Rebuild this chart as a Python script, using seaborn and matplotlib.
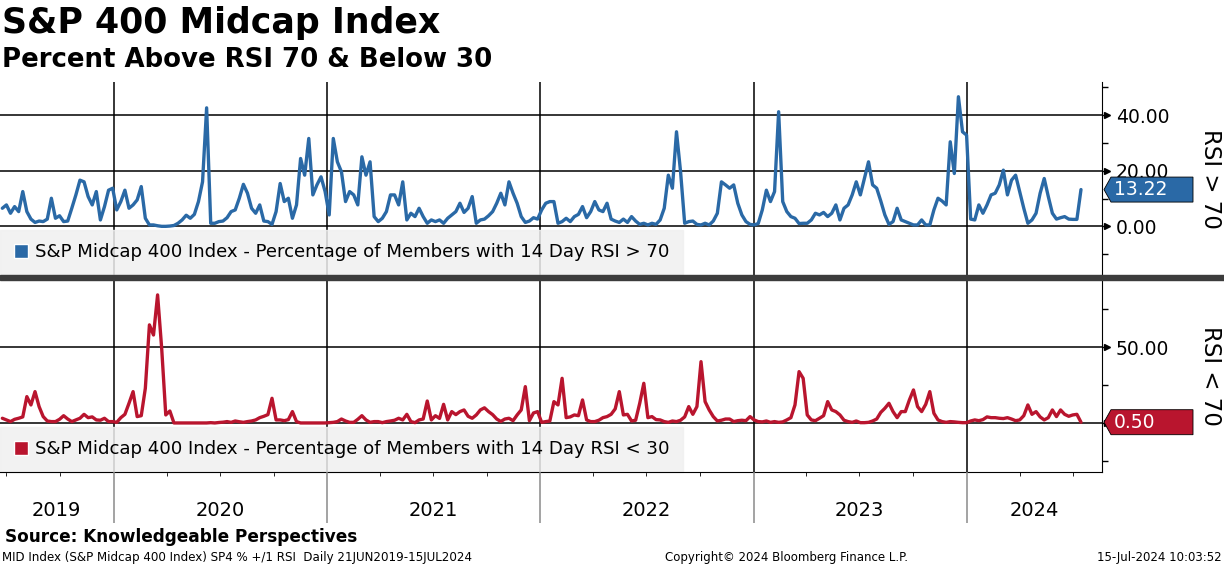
import matplotlib
matplotlib.use('Agg')
import numpy as np
import pandas as pd
import matplotlib.pyplot as plt
import matplotlib.dates as mdates
import seaborn as sns
from matplotlib.patches import Patch, Polygon, Rectangle
from matplotlib.ticker import FuncFormatter, FixedLocator

# % de miembros con RSI 14d > 70, lectura semanal aprox. del grafico (ultimo valor = 15-Jul-2024)
rsi_above = [
    6.5, 7.7, 4.7, 7.1, 5.3, 12.5, 5.3, 2.6, 1.4, 1.9,
    1.7, 2.6, 10.1, 2.9, 3.8, 1.7, 1.9, 6.5, 11.3, 16.6,
    16.0, 10.7, 7.7, 12.5, 2.3, 7.1, 13.0, 13.7, 5.9, 8.9,
    13.0, 6.5, 7.7, 9.5, 14.3, 2.9, 0.5, 0.5, 0.2, 0.0,
    0.0, 0.1, 0.3, 1.1, 2.3, 4.0, 2.9, 4.3, 8.9, 16.0,
    42.6, 1.1, 1.1, 1.7, 1.9, 3.1, 5.3, 5.9, 10.1, 15.1,
    11.9, 6.5, 4.7, 7.7, 1.9, 1.7, 0.7, 5.3, 15.4, 8.9,
    10.1, 2.9, 7.7, 24.4, 18.4, 31.6, 11.3, 14.9, 17.8, 12.5,
    4.1, 31.6, 23.2, 19.6, 8.9, 12.5, 11.3, 7.7, 25.0, 18.4,
    23.2, 3.5, 1.7, 2.9, 5.3, 11.3, 11.3, 7.7, 16.0, 2.3,
    4.7, 3.5, 6.5, 3.5, 1.1, 2.3, 1.7, 2.3, 1.1, 2.9,
    4.1, 5.3, 8.3, 5.0, 6.5, 10.7, 1.1, 2.3, 2.6, 3.8,
    5.3, 8.3, 11.9, 7.7, 16.0, 11.9, 8.3, 3.5, 1.4, 1.9,
    3.1, 2.6, 5.9, 8.3, 8.9, 8.9, 1.1, 1.7, 2.9, 1.7,
    3.5, 4.3, 7.1, 3.1, 5.3, 8.9, 5.9, 5.3, 8.3, 2.6,
    1.9, 1.4, 2.6, 1.4, 3.5, 1.9, 0.7, 1.1, 0.5, 1.1,
    0.7, 2.3, 6.5, 18.4, 13.7, 34.0, 19.6, 1.1, 1.7, 1.9,
    0.7, 0.5, 1.1, 0.5, 1.9, 4.7, 16.0, 14.9, 13.7, 14.9,
    8.3, 4.1, 1.7, 0.7, 0.5, 1.0, 5.9, 13.0, 8.9, 12.5,
    41.2, 8.9, 5.3, 3.5, 2.9, 1.0, 1.1, 1.1, 2.3, 4.7,
    4.1, 5.0, 3.5, 4.7, 7.7, 2.3, 6.5, 7.7, 11.3, 16.0,
    11.3, 17.2, 23.2, 14.9, 13.7, 9.1, 4.1, 0.7, 1.7, 6.5,
    2.3, 1.7, 1.1, 0.5, 0.5, 2.3, 0.5, 0.5, 5.9, 10.1,
    9.1, 7.7, 30.4, 19.0, 46.6, 34.0, 32.8, 2.6, 2.3, 7.7,
    4.7, 7.7, 11.3, 11.9, 14.9, 20.2, 11.3, 16.6, 18.4, 12.5,
    6.5, 1.1, 2.3, 4.7, 11.9, 17.2, 10.7, 4.7, 2.6, 3.1,
    3.5, 2.6, 2.5, 2.5, 13.22,
]

# % de miembros con RSI 14d < 30
rsi_below = [
    3.1, 2.0, 0.9, 2.4, 3.1, 4.0, 17.4, 11.9, 20.7, 10.8,
    4.2, 1.3, 0.9, 0.9, 2.4, 4.8, 2.6, 0.9, 2.0, 3.1,
    5.7, 3.5, 4.0, 2.0, 1.8, 3.1, 0.9, 0.9, 0.4, 3.5,
    5.7, 13.0, 20.7, 4.2, 4.8, 22.9, 64.8, 58.1, 84.6, 49.3,
    5.3, 7.9, 0.0, 0.0, 0.0, 0.0, 0.0, 0.0, 0.0, 0.0,
    0.0, 0.2, 0.0, 0.3, 0.5, 0.9, 0.4, 1.3, 0.8, 0.4,
    0.9, 1.3, 2.0, 3.5, 4.4, 5.5, 16.3, 2.0, 2.0, 1.5,
    2.2, 7.5, 0.9, 0.0, 0.0, 0.0, 0.0, 0.0, 0.0, 0.0,
    0.2, 0.4, 0.9, 2.6, 1.3, 0.4, 0.4, 2.4, 4.8, 2.0,
    0.4, 0.9, 0.9, 0.2, 0.9, 1.3, 1.8, 3.1, 2.0, 5.7,
    0.9, 0.2, 2.0, 2.6, 14.5, 2.0, 4.8, 3.0, 12.3, 2.0,
    7.5, 5.5, 7.5, 8.6, 4.4, 3.1, 5.3, 8.6, 10.0, 7.5,
    5.5, 2.6, 1.0, 2.6, 3.1, 1.5, 5.3, 8.6, 24.0, 1.5,
    6.6, 7.5, 0.4, 0.9, 1.3, 14.1, 11.9, 29.5, 3.5, 4.0,
    5.3, 4.8, 15.2, 2.0, 0.9, 0.9, 1.8, 3.5, 4.2, 5.7,
    9.3, 20.7, 5.3, 5.7, 1.3, 1.8, 13.0, 26.2, 3.5, 4.2,
    2.2, 2.0, 0.9, 0.4, 1.3, 0.9, 1.8, 4.0, 10.8, 5.7,
    10.8, 40.5, 14.1, 8.6, 4.2, 1.3, 1.8, 2.6, 2.6, 0.9,
    1.5, 1.8, 1.5, 4.2, 2.0, 0.9, 0.7, 1.3, 0.4, 0.9,
    0.4, 0.7, 2.0, 3.5, 11.9, 33.9, 29.5, 5.3, 2.0, 1.5,
    3.1, 4.8, 14.1, 8.6, 7.5, 5.3, 1.8, 0.9, 0.4, 1.3,
    0.2, 0.2, 0.4, 1.3, 2.6, 7.0, 9.7, 13.0, 7.5, 3.5,
    7.5, 7.5, 15.2, 21.8, 10.8, 7.5, 12.3, 20.7, 6.4, 2.0,
    0.9, 0.4, 0.9, 0.7, 0.4, 0.2, 0.2, 1.3, 2.0, 1.5,
    2.2, 4.0, 3.5, 3.5, 3.1, 2.9, 3.5, 2.6, 1.5, 2.0,
    4.8, 11.9, 5.7, 7.5, 4.0, 2.0, 3.5, 8.6, 4.2, 8.6,
    5.7, 4.4, 5.3, 5.7, 0.50,
]

years = ['2019', '2020', '2021', '2022', '2023', '2024']
year_label_dates = ['2019-09-25', '2020-07-02', '2021-07-02', '2022-07-02', '2023-07-02', '2024-04-26']
label_above = 'S&P Midcap 400 Index - Percentage of Members with 14 Day RSI > 70'
label_below = 'S&P Midcap 400 Index - Percentage of Members with 14 Day RSI < 30'

BLUE = '#2a69a6'
RED = '#b9152e'
W, H = 1224, 566

dates = pd.date_range(end='2024-07-15', periods=len(rsi_above), freq='7D')
df = pd.DataFrame({'date': dates, 'above': rsi_above, 'below': rsi_below})

sns.set_style('white')
plt.rcParams['font.family'] = ['DejaVu Sans']
plt.rcParams['text.color'] = 'black'
plt.rcParams['xtick.color'] = 'black'
plt.rcParams['ytick.color'] = 'black'
plt.rcParams['axes.labelcolor'] = 'black'

fig = plt.figure(figsize=(W / 100, H / 100), dpi=100)
ax1 = fig.add_axes([0, 1 - 275 / H, 1102 / W, 193 / H])
ax2 = fig.add_axes([0, 1 - 472 / H, 1102 / W, 193 / H])
ax3 = fig.add_axes([0, 1 - 523 / H, 1102 / W, 51 / H])

sns.lineplot(data=df, x='date', y='above', ax=ax1, color=BLUE, lw=2.4, legend=False, zorder=3)
sns.lineplot(data=df, x='date', y='below', ax=ax2, color=RED, lw=2.4, legend=False, zorder=3)

xmin, xmax = pd.Timestamp('2019-06-20'), pd.Timestamp('2024-08-20')
year_starts = [pd.Timestamp(f'{y}-01-01') for y in range(2020, 2025)]

def style_panel(ax, ylim, major, minor, hide_zero=False):
    ax.set_xlim(xmin, xmax)
    ax.set_ylim(*ylim)
    ax.set_xlabel('')
    ax.set_ylabel('')
    for s in ['left', 'top', 'bottom']:
        ax.spines[s].set_visible(False)
    ax.spines['right'].set_color('black')
    ax.yaxis.tick_right()
    ax.yaxis.set_major_locator(FixedLocator(major))
    ax.yaxis.set_minor_locator(FixedLocator(minor))
    # el 0.00 del panel inferior queda tapado por la etiqueta del ultimo valor
    ax.yaxis.set_major_formatter(FuncFormatter(
        lambda v, p: '' if (hide_zero and v == 0) else f'{v:.2f}'))
    ax.tick_params(axis='y', which='both', direction='out', length=4, width=1, color='black',
                   labelsize=13.5, pad=6, right=True, left=False, labelcolor='black')
    for v in major:
        ax.axhline(v, color='black', lw=1.1, zorder=1)
        ax.plot([1 + 5 / 1102], [v], marker='>', ms=4.5, color='black',
                transform=ax.get_yaxis_transform(), clip_on=False)
    for d in year_starts:
        ax.axvline(d, color='black', lw=1.1, zorder=1)
    ax.xaxis.set_major_locator(mdates.YearLocator())
    ax.tick_params(axis='x', which='both', bottom=False, labelbottom=False)

style_panel(ax1, (-17.5, 51.9), [0, 20, 40], [-10, 10, 30, 50])
style_panel(ax2, (-32.4, 95.1), [0, 50], [-25, 25, 75], hide_zero=True)
ax2.spines['bottom'].set_visible(True)
ax2.spines['bottom'].set_color('black')
ax2.xaxis.set_minor_locator(mdates.MonthLocator(bymonth=[1, 4, 7, 10]))
ax2.tick_params(axis='x', which='minor', bottom=True, direction='out', length=3, color='black')

for ax, lab, col in [(ax1, label_above, BLUE), (ax2, label_below, RED)]:
    leg = ax.legend(handles=[Patch(facecolor=col, label=lab)], loc='lower left',
                    bbox_to_anchor=(0, 0), borderaxespad=0, frameon=True, fancybox=False,
                    facecolor='#f0f0f0', edgecolor='#f0f0f0', framealpha=0.85,
                    fontsize=13.1, handlelength=0.8, handleheight=0.8,
                    handletextpad=0.35, borderpad=0.75)
    leg.set_zorder(2)

# banda de anos
ax3.set_xlim(xmin, xmax)
ax3.set_ylim(0, 1)
ax3.axis('off')
for d in year_starts:
    ax3.axvline(d, color='#8a8a8a', lw=1.1)
for y, d in zip(years, year_label_dates):
    ax3.text(pd.Timestamp(d), 0.24, y, ha='center', va='center', fontsize=14)

# separador entre paneles
fig.add_artist(Rectangle((0, 1 - 280 / H), 1, 5 / H, transform=fig.transFigure,
                         color='#3c3c3c', zorder=5))

# etiquetas de ultimo valor
def value_tag(ax, value, color):
    yd = ax.transData.transform((mdates.date2num(xmin), value))[1]
    yf = yd / (H * fig.dpi / 100)
    h = 12.5 / H
    pts = [(1104 / W, yf), (1111 / W, yf + h), (1193 / W, yf + h), (1193 / W, yf - h), (1111 / W, yf - h)]
    fig.add_artist(Polygon(pts, closed=True, transform=fig.transFigure, facecolor=color,
                           edgecolor='black', lw=0.6, zorder=6))
    fig.text(1114 / W, yf, f'{value:.2f}', color='white', fontsize=13.5, va='center', zorder=7)

value_tag(ax1, rsi_above[-1], BLUE)
value_tag(ax2, rsi_below[-1], RED)

fig.text(1210 / W, 1 - 179 / H, 'RSI > 70', rotation=-90, ha='center', va='center', fontsize=16.5)
fig.text(1210 / W, 1 - 376 / H, 'RSI < 70', rotation=-90, ha='center', va='center', fontsize=16.5)

fig.text(2 / W, 1 - 23 / H, 'S&P 400 Midcap Index', fontsize=25, fontweight='bold', va='center')
fig.text(2 / W, 1 - 60 / H, 'Percent Above RSI 70 & Below 30', fontsize=18.7, fontweight='bold', va='center')
fig.text(5 / W, 1 - 537 / H, 'Source: Knowledgeable Perspectives', fontsize=12.2, fontweight='bold', va='center')
fig.text(2 / W, 1 - 557 / H, 'MID Index (S&P Midcap 400 Index) SP4 % +/1 RSI  Daily 21JUN2019-15JUL2024',
         fontsize=8.6, va='center')
fig.text(786 / W, 1 - 557 / H, 'Copyright\u00a9 2024 Bloomberg Finance L.P.', fontsize=8.5, ha='center', va='center')
fig.text(1222 / W, 1 - 557 / H, '15-Jul-2024 10:03:52', fontsize=8.5, ha='right', va='center')

fig.savefig('out.png', dpi=100)
